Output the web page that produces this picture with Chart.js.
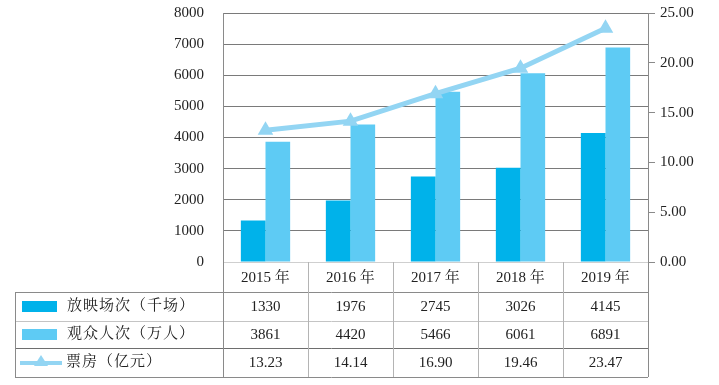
<!DOCTYPE html>
<html>
<head>
<meta charset="utf-8">
<script src="https://cdn.jsdelivr.net/npm/chart.js@4"></script>
<style>
  html, body { margin: 0; padding: 0; background: #fff; }
  #wrap { width: 719px; height: 385px; }
</style>
</head>
<body>
<div id="wrap"><canvas id="chart" width="719" height="385"></canvas></div>
<script>
// 数据
const years = ['2015 年', '2016 年', '2017 年', '2018 年', '2019 年'];
const screenings = [1330, 1976, 2745, 3026, 4145];     // 放映场次（千场）
const audience = [3861, 4420, 5466, 6061, 6891];       // 观众人次（万人）
const boxOffice = [13.23, 14.14, 16.90, 19.46, 23.47]; // 票房（亿元）
const seriesNames = ['放映场次（千场）', '观众人次（万人）', '票房（亿元）'];

const colDark = '#00b2ea';
const colLight = '#5ecbf4';
const colLine = '#93d5f3';
const FONT = "'Liberation Serif', 'Noto Serif CJK SC', 'Noto Sans CJK SC', serif";

// 数据表（画在图下方）
const tablePlugin = {
    id: 'dataTable',
    afterDraw(chart) {
        const ctx = chart.ctx;
        const area = chart.chartArea;
        const x = chart.scales.x;
        const left = 15;
        const rows = [292, 321, 348, 377];
        const step = x.getPixelForValue(1) - x.getPixelForValue(0);
        const bounds = [area.left];
        for (let i = 0; i < years.length; i++) {
            bounds.push(Math.round(x.getPixelForValue(i) + step / 2));
        }
        bounds[bounds.length - 1] = area.right;

        ctx.save();
        ctx.lineWidth = 1;
        // 横线
        const hColors = ['#8a8a8a', '#c4c4c4', '#6e6e6e', '#8a8a8a'];
        rows.forEach((y, i) => {
            ctx.strokeStyle = hColors[i];
            ctx.beginPath();
            ctx.moveTo(left, y + 0.5);
            ctx.lineTo(area.right, y + 0.5);
            ctx.stroke();
        });
        // 竖线
        ctx.strokeStyle = '#8a8a8a';
        ctx.beginPath();
        ctx.moveTo(left + 0.5, rows[0]);
        ctx.lineTo(left + 0.5, rows[3]);
        ctx.stroke();
        bounds.forEach((bx, i) => {
            ctx.strokeStyle = (i === 0 || i === bounds.length - 1) ? '#8a8a8a' : '#b4b4b4';
            ctx.beginPath();
            ctx.moveTo(bx + 0.5, area.bottom);
            ctx.lineTo(bx + 0.5, rows[3]);
            ctx.stroke();
        });

        // 图例 + 名称
        ctx.fillStyle = colDark;
        ctx.fillRect(22, 301, 35, 11);
        ctx.fillStyle = colLight;
        ctx.fillRect(22, 329, 35, 11);
        ctx.strokeStyle = colLine;
        ctx.lineWidth = 4;
        ctx.beginPath();
        ctx.moveTo(20, 363);
        ctx.lineTo(62, 363);
        ctx.stroke();
        ctx.fillStyle = colLine;
        ctx.beginPath();
        ctx.moveTo(41, 355);
        ctx.lineTo(48, 366);
        ctx.lineTo(34, 366);
        ctx.closePath();
        ctx.fill();

        ctx.fillStyle = '#222';
        ctx.textBaseline = 'middle';
        ctx.textAlign = 'left';
        ctx.font = '15px ' + FONT;
        ctx.letterSpacing = '1px';
        const mids = [306.5, 334.5, 362.5];
        seriesNames.forEach((n, i) => ctx.fillText(n, i === 2 ? 66 : 67, mids[i]));
        ctx.letterSpacing = '0px';

        // 数值
        ctx.textAlign = 'center';
        const vals = [screenings.map(String), audience.map(String), boxOffice.map(v => v.toFixed(2))];
        vals.forEach((row, r) => {
            row.forEach((v, i) => ctx.fillText(v, x.getPixelForValue(i), mids[r] + 1));
        });
        ctx.restore();
    }
};

new Chart(document.getElementById('chart'), {
    type: 'bar',
    data: {
        labels: years,
        datasets: [
            {
                type: 'line',
                label: seriesNames[2],
                data: boxOffice,
                yAxisID: 'y1',
                borderColor: colLine,
                backgroundColor: colLine,
                borderWidth: 5,
                pointStyle: 'triangle',
                pointRadius: 9,
                pointBorderWidth: 0,
                tension: 0,
                order: 0
            },
            {
                label: seriesNames[0],
                data: screenings,
                yAxisID: 'y',
                backgroundColor: colDark,
                barPercentage: 1,
                categoryPercentage: 0.58,
                order: 1
            },
            {
                label: seriesNames[1],
                data: audience,
                yAxisID: 'y',
                backgroundColor: colLight,
                barPercentage: 1,
                categoryPercentage: 0.58,
                order: 1
            }
        ]
    },
    options: {
        responsive: false,
        animation: false,
        layout: { padding: { top: 13, left: 0, right: 0, bottom: 0 } },
        plugins: {
            legend: { display: false },
            tooltip: { enabled: false }
        },
        scales: {
            x: {
                grid: { display: false, drawTicks: false },
                border: { display: false },
                ticks: { color: '#222', font: { family: FONT, size: 15 }, padding: 7 },
                afterFit(s) { s.height = 123; }
            },
            y: {
                position: 'left',
                min: 0,
                max: 8000,
                ticks: {
                    stepSize: 1000,
                    color: '#222',
                    font: { family: FONT, size: 15 },
                    padding: 19,
                    callback: v => String(v)
                },
                grid: {
                    drawTicks: false,
                    color: ctx => ctx.tick.value === 0 ? '#cfcfcf' : '#7a7a7a'
                },
                border: { color: '#8a8a8a' },
                afterFit(s) { s.width = 223; s.paddingTop = 0; s.paddingBottom = 0; }
            },
            y1: {
                position: 'right',
                min: 0,
                max: 25,
                ticks: {
                    stepSize: 5,
                    color: '#222',
                    font: { family: FONT, size: 15 },
                    padding: 5,
                    callback: v => v.toFixed(2)
                },
                grid: { drawOnChartArea: false, drawTicks: true, tickLength: 7, color: '#8a8a8a' },
                border: { color: '#8a8a8a' },
                afterFit(s) { s.width = 71; s.paddingTop = 0; s.paddingBottom = 0; }
            }
        }
    },
    plugins: [tablePlugin]
});
</script>
</body>
</html>
